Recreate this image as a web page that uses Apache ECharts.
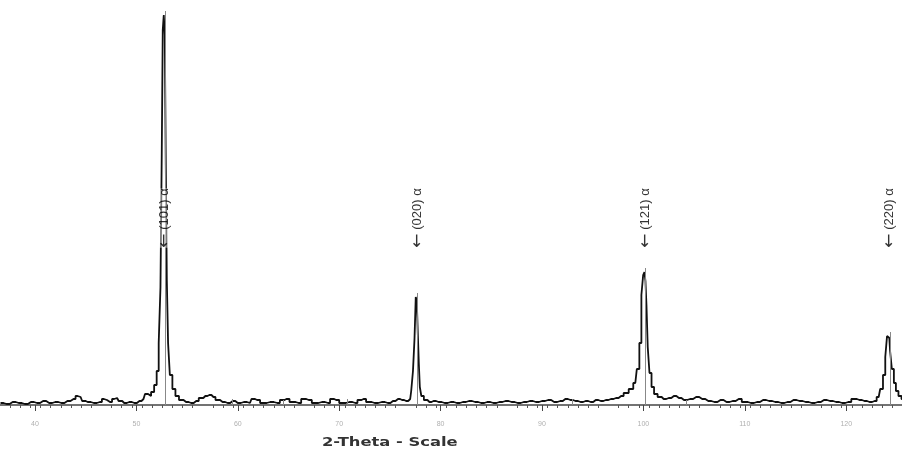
<!DOCTYPE html>
<html>
<head>
<meta charset="utf-8">
<script src="https://cdn.jsdelivr.net/npm/echarts@6/dist/echarts.min.js"></script>
<style>
  html, body { margin: 0; padding: 0; background: #fff; }
  #chart { width: 902px; height: 449px; }
</style>
</head>
<body>
<div id="chart"></div>
<script>
// 2-theta positions (deg) and measured intensity (arbitrary counts)
const twoTheta = [
  36.6, 37.2, 37.8, 38.4, 39.0, 39.6, 40.2, 40.8, 41.4, 42.0, 42.6, 43.2, 43.8, 44.2, 44.5, 44.8, 45.2,
  45.8, 46.4, 46.8, 47.1, 47.4, 47.8, 48.1, 48.4, 48.8, 49.3, 49.8, 50.3, 50.7, 51.0, 51.3, 51.6,
  51.9, 52.1, 52.3, 52.45, 52.55, 52.65, 52.75, 52.85, 52.95, 53.05, 53.2, 53.4, 53.7, 54.0, 54.4,
  54.9, 55.4, 55.9, 56.4, 56.8, 57.2, 57.6, 58.0, 58.5, 59.0, 59.5, 60.0, 60.6, 61.2, 61.5, 61.9,
  62.5, 63.2, 63.9, 64.4, 64.8, 65.4, 66.0, 66.5, 67.0, 67.6, 68.3, 68.9, 69.3, 69.7, 70.3, 71.0,
  71.6, 72.0, 72.4, 72.9, 73.5, 74.2, 74.8, 75.3, 75.8, 76.2, 76.6, 77.0, 77.2, 77.35, 77.5, 77.6,
  77.7, 77.8, 77.9, 78.0, 78.2, 78.5, 78.9, 79.3, 79.8, 80.4, 81.0, 81.6, 82.2, 82.8, 83.4, 84.0,
  84.6, 85.2, 85.8, 86.4, 87.0, 87.6, 88.2, 88.8, 89.4, 90.0, 90.6, 91.2, 91.8, 92.3, 92.8, 93.3,
  93.8, 94.3, 94.8, 95.3, 95.8, 96.3, 96.8, 97.3, 97.8, 98.3, 98.8, 99.2, 99.5, 99.7, 99.9, 100.05,
  100.15, 100.25, 100.35, 100.5, 100.7, 100.9, 101.2, 101.6, 102.0, 102.5, 103.0, 103.5, 104.0,
  104.6, 105.2, 105.8, 106.4, 107.0, 107.6, 108.2, 108.8, 109.4, 110.0, 110.6, 111.2, 111.8, 112.4,
  113.0, 113.6, 114.2, 114.8, 115.4, 116.0, 116.6, 117.2, 117.8, 118.4, 119.0, 119.6, 120.2, 120.8,
  121.3, 121.8, 122.3, 122.8, 123.2, 123.5, 123.75, 123.95, 124.1, 124.25, 124.4, 124.6, 124.8,
  125.0, 125.3, 125.6
];
const intensity = [
  2, 1, 3, 2, 1, 3, 2, 4, 2, 3, 2, 4, 6, 9, 8, 4, 3,
  2, 3, 6, 5, 3, 6, 7, 4, 2, 3, 2, 4, 6, 11, 9, 13,
  20, 34, 62, 118, 250, 375, 390, 370, 240, 125, 62, 30, 16, 9, 5,
  3, 2, 4, 7, 9, 10, 8, 5, 3, 2, 4, 2, 3, 2, 6, 5,
  2, 3, 2, 5, 6, 3, 2, 6, 5, 2, 3, 2, 6, 5, 2, 3,
  2, 5, 6, 3, 2, 3, 2, 4, 6, 5, 4, 6, 14, 34, 66, 108,
  104, 72, 42, 18, 9, 5, 3, 4, 3, 2, 3, 2, 3, 4, 3, 2,
  3, 2, 3, 4, 3, 2, 3, 4, 3, 4, 5, 3, 4, 6, 5, 4,
  3, 4, 3, 5, 4, 5, 6, 7, 9, 12, 16, 22, 36, 62, 110, 130,
  133, 124, 100, 58, 32, 18, 11, 8, 6, 7, 9, 7, 5,
  6, 8, 6, 4, 3, 5, 3, 4, 6, 3, 2, 3, 5, 4,
  3, 2, 3, 5, 4, 3, 2, 3, 5, 4, 3, 2, 3, 6,
  5, 4, 3, 4, 8, 16, 30, 48, 69, 67, 54, 36, 22,
  14, 9, 6
];
// reference stick positions, heights and labels
const peakPos = [52.8, 77.7, 100.2, 124.3];
const peakTop = [390, 108, 133, 69];
const peakLabels = ['(101) \u03b1', '(020) \u03b1', '(121) \u03b1', '(220) \u03b1'];
const labelLevel = 187;
// small marker ticks
const markPos = [59.5, 64.5, 70.8, 93.0, 104.2];
const markTop = [6, 5, 6, 6, 5];
const tickLabels = [40, 50, 60, 70, 80, 90, 100, 110, 120];

const chart = echarts.init(document.getElementById('chart'));
const profile = twoTheta.map((x, i) => [x, intensity[i]]);

const option = {
  animation: false,
  backgroundColor: '#fff',
  grid: { left: 0, right: 0, top: 5, bottom: 44 },
  xAxis: {
    type: 'value',
    min: 36.55,
    max: 125.5,
    interval: 10,
    axisLine: { lineStyle: { color: '#444', width: 1.5 } },
    axisTick: { length: 6, lineStyle: { color: '#444', width: 1 },
      customValues: tickLabels },
    minorTick: { show: true, splitNumber: 10, length: 3, lineStyle: { color: '#555' } },
    splitLine: { show: false },
    axisLabel: {
      customValues: tickLabels,
      color: '#b0b0b0', fontSize: 7, margin: 16,
      fontFamily: 'Arial, Liberation Sans'
    }
  },
  yAxis: {
    type: 'value', min: 0, max: 400, show: false
  },
  graphic: [{
    type: 'text', x: 322, y: 437, scaleX: 1.36,
    style: { text: '2-Theta - Scale', fontSize: 12, fontWeight: 'bold',
      fontFamily: 'DejaVu Sans', fill: '#333' }
  }],
  series: [
    {
      type: 'line',
      data: profile,
      step: 'middle',
      symbol: 'none',
      lineStyle: { color: '#111', width: 1.8 },
      z: 3
    },
    {
      type: 'line',
      data: [],
      markLine: {
        silent: true, symbol: 'none', label: { show: false },
        lineStyle: { color: '#888', width: 1, type: 'solid' },
        data: peakPos.map((p, i) => [{ coord: [p, 0] }, { coord: [p, peakTop[i] + 4] }])
          .concat(markPos.map((p, i) => [{ coord: [p, 0] }, { coord: [p, markTop[i]] }]))
      }
    },
    {
      type: 'scatter',
      data: peakPos.map((p, i) => ({ value: [p, labelLevel], name: peakLabels[i] })),
      symbolSize: 0,
      z: 5,
      label: {
        show: true, rotate: 90, position: 'inside',
        formatter: (d) => '{a|\u2190} ' + d.name,
        fontSize: 13, color: '#000',
        fontFamily: 'Arial, Liberation Sans',
        backgroundColor: 'rgba(255,255,255,0.55)',
        rich: { a: { fontSize: 17, fontFamily: 'DejaVu Sans', color: '#000' } }
      }
    }
  ]
};
chart.setOption(option);
</script>
</body>
</html>
